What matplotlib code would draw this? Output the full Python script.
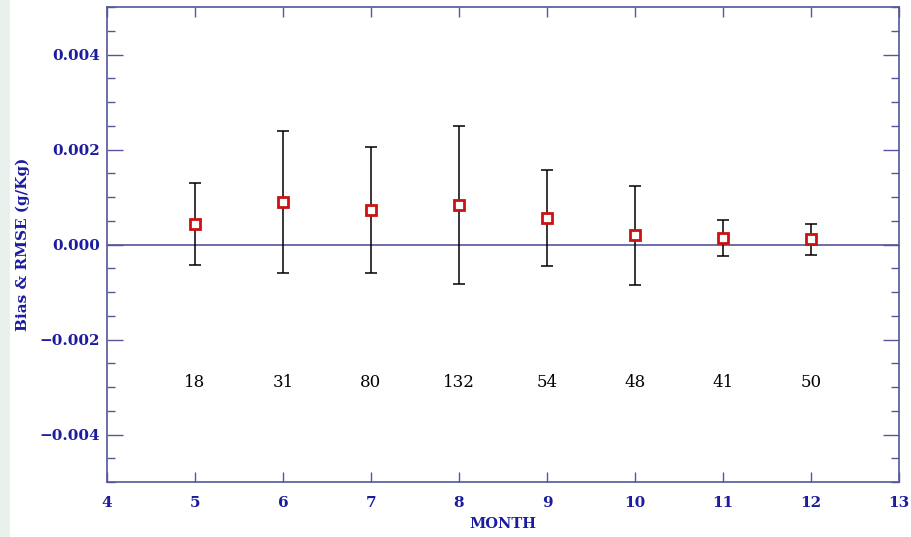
import matplotlib
matplotlib.use("Agg")
import matplotlib.pyplot as plt
from matplotlib.ticker import MultipleLocator, FixedLocator
from matplotlib.patches import Rectangle

months = [5, 6, 7, 8, 9, 10, 11, 12]
bias = [0.00043, 0.00090, 0.00073, 0.00083, 0.00055, 0.00019, 0.00013, 0.00011]
rmse = [0.00086, 0.00150, 0.00132, 0.00166, 0.00101, 0.00105, 0.00038, 0.00033]
counts = ["18", "31", "80", "132", "54", "48", "41", "50"]
count_y = -0.0029

navy = "#1c1ca0"
frame = "#55559a"

fig = plt.figure(figsize=(9.12, 5.37), dpi=100)
fig.patch.set_facecolor("white")
fig.add_artist(Rectangle((0, 0), 10 / 912, 1, transform=fig.transFigure,
                         facecolor="#e9f1ec", edgecolor="none", zorder=0))
ax = fig.add_axes([107 / 912, 55 / 537, 792 / 912, 475 / 537])

ax.axhline(0, color=frame, lw=1.2, zorder=1)
ax.errorbar(months, bias, yerr=rmse, fmt="none", ecolor="black", elinewidth=1.1,
            capsize=4.5, capthick=1.1, zorder=2)
ax.plot(months, bias, ls="none", marker="s", ms=7, mfc="white", mec="#cc1111",
        mew=2, zorder=3)
for m, c in zip(months, counts):
    ax.text(m, count_y, c, ha="center", va="center", fontsize=12,
            family="DejaVu Serif", color="black")

ax.set_xlim(4, 13)
ax.set_ylim(-0.005, 0.005)
ax.xaxis.set_major_locator(MultipleLocator(1))
ax.yaxis.set_major_locator(FixedLocator([-0.004, -0.002, 0.0, 0.002, 0.004]))
ax.yaxis.set_minor_locator(MultipleLocator(0.0005))
ax.set_yticklabels(["\u22120.004", "\u22120.002", "0.000", "0.002", "0.004"])

for s in ax.spines.values():
    s.set_color(frame)
    s.set_linewidth(1.2)

ax.tick_params(axis="x", which="major", direction="in", top=True, bottom=True,
               length=7, width=1, color=frame, labelsize=11, labelcolor=navy, pad=10)
ax.tick_params(axis="y", which="major", direction="in", left=True, right=True,
               length=11.5, width=1, color=frame, labelsize=11, labelcolor=navy, pad=5)
ax.tick_params(axis="y", which="minor", direction="in", left=True, right=True,
               length=5.5, width=1, color=frame)
for lab in ax.get_xticklabels() + ax.get_yticklabels():
    lab.set_family("DejaVu Serif")
    lab.set_fontweight("bold")

ax.set_xlabel("MONTH", family="DejaVu Serif", fontweight="bold", color=navy,
              fontsize=10.5, labelpad=5)
ax.set_ylabel("Bias & RMSE (g/Kg)", family="DejaVu Serif", fontweight="bold",
              color=navy, fontsize=11, labelpad=7)

fig.savefig("out.png", dpi=100)
